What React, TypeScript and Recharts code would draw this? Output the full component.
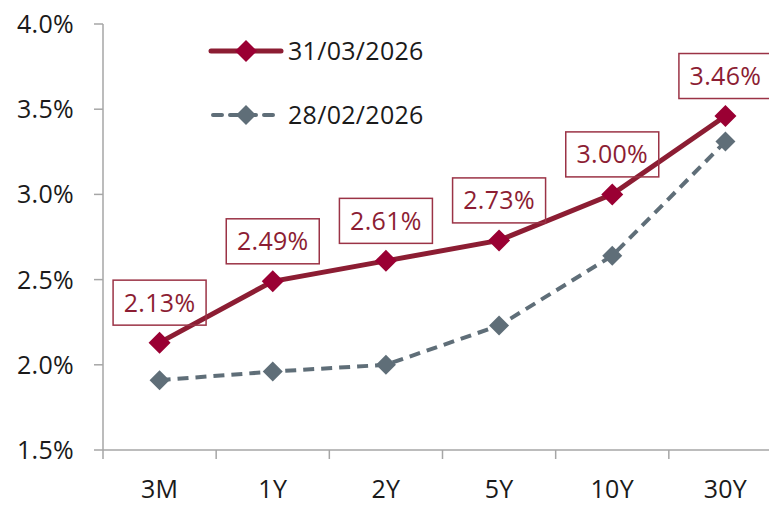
import React from 'react';
import { LineChart, Line, XAxis, YAxis, LabelList } from 'recharts';

const tenors = ['3M', '1Y', '2Y', '5Y', '10Y', '30Y'];
const march = [2.13, 2.49, 2.61, 2.73, 3.0, 3.46];
const february = [1.91, 1.96, 2.0, 2.23, 2.64, 3.31];
const yTicks = [1.5, 2.0, 2.5, 3.0, 3.5, 4.0];
const seriesNames = ['31/03/2026', '28/02/2026'];

const data = tenors.map((t, i) => ({ tenor: t, march: march[i], february: february[i] }));

const RED_LINE = '#8C1D33';
const RED_DOT = '#9A0033';
const GREY = '#5F6E78';
const AXIS = '#A6A6A6';
const FONT = '"Open Sans", sans-serif';
const FS = 25;
const LS = 0.3;

const diamond = (fill: string, r: number) => (props: any) => {
    const { cx, cy, index } = props;
    if (cx == null || cy == null) return <g key={index} />;
    return (
        <polygon
            key={index}
            points={`${cx},${cy - r} ${cx + r},${cy} ${cx},${cy + r} ${cx - r},${cy}`}
            fill={fill}
        />
    );
};

const BoxLabel = (props: any) => {
    const { x, y, value } = props;
    const w = 93;
    const h = 45;
    const cy = y - 40;
    return (
        <g>
            <rect x={x - w / 2} y={cy - h / 2} width={w} height={h} fill="none" stroke="#9B3346" strokeWidth={1.5} />
            <text x={x} y={cy} dy="0.36em" textAnchor="middle" fontSize={FS} letterSpacing={LS} fontFamily={FONT} fill="#8C1D33">
                {Number(value).toFixed(2)}%
            </text>
        </g>
    );
};

const XTick = (props: any) => {
    const { x, y, payload } = props;
    const off = payload && payload.offset != null ? payload.offset : 56.5;
    return (
        <g>
            <line x1={x - off} x2={x - off} y1={y} y2={y + 9} stroke={AXIS} strokeWidth={1.5} />
            <text x={x} y={y} dy={48} textAnchor="middle" fontSize={FS} letterSpacing={LS} fontFamily={FONT} fill="#1a1a1a">
                {payload.value}
            </text>
        </g>
    );
};

const YTick = (props: any) => {
    const { x, y, payload } = props;
    return (
        <text x={x} y={y} dy="0.36em" textAnchor="end" fontSize={FS} letterSpacing={LS} fontFamily={FONT} fill="#1a1a1a">
            {`${Number(payload.value).toFixed(1)}%`}
        </text>
    );
};

const LegendBox = () => (
    <svg width={500} height={140} style={{ position: 'absolute', left: 0, top: 0, pointerEvents: 'none' }}>
        <line x1={211} x2={281} y1={51} y2={51} stroke={RED_LINE} strokeWidth={5} strokeLinecap="round" />
        <polygon points="246,40 257,51 246,62 235,51" fill={RED_DOT} />
        <text x={288} y={51} dy="0.36em" fontSize={FS} letterSpacing={LS} fontFamily={FONT} fill="#1a1a1a">
            {seriesNames[0]}
        </text>
        <line x1={213} x2={281} y1={115} y2={115} stroke={GREY} strokeWidth={4} strokeDasharray="9 8" strokeLinecap="round" />
        <polygon points="246,105 256,115 246,125 236,115" fill={GREY} />
        <text x={288} y={115} dy="0.36em" fontSize={FS} letterSpacing={LS} fontFamily={FONT} fill="#1a1a1a">
            {seriesNames[1]}
        </text>
    </svg>
);

export default function App() {
    return (
        <div style={{ position: 'relative', width: 769, height: 505, overflow: 'hidden' }}>
            <style>{'body{margin:0;overflow:hidden}'}</style>
            <LineChart width={782} height={505} data={data} margin={{ top: 24, right: 0, bottom: 0, left: 0 }}>
                <XAxis
                    dataKey="tenor"
                    scale="band"
                    height={55}
                    stroke={AXIS}
                    strokeWidth={1.5}
                    tickLine={false}
                    tickSize={0}
                    tickMargin={0}
                    tick={<XTick />}
                    interval={0}
                />
                <YAxis
                    width={103}
                    domain={[1.5, 4.0]}
                    ticks={yTicks}
                    stroke={AXIS}
                    strokeWidth={1.5}
                    tickSize={9}
                    tickMargin={20}
                    tick={<YTick />}
                    allowDataOverflow
                />
                <Line
                    dataKey="february"
                    stroke={GREY}
                    strokeWidth={4}
                    strokeDasharray="11 7"
                    dot={diamond(GREY, 10)}
                    activeDot={false}
                    isAnimationActive={false}
                />
                <Line
                    dataKey="march"
                    stroke={RED_LINE}
                    strokeWidth={5}
                    dot={diamond(RED_DOT, 11)}
                    activeDot={false}
                    isAnimationActive={false}
                >
                    <LabelList dataKey="march" content={<BoxLabel />} />
                </Line>
            </LineChart>
            <LegendBox />
        </div>
    );
}
